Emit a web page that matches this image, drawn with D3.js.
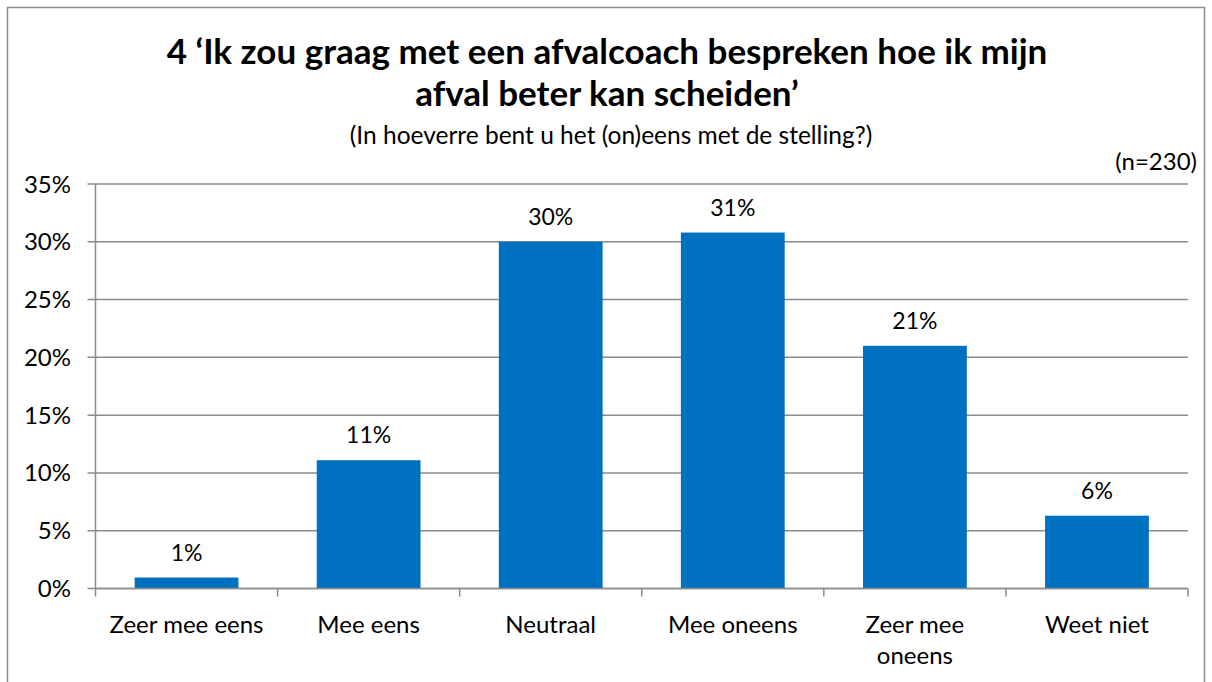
<!DOCTYPE html>
<html>
<head>
<meta charset="utf-8">
<script src="https://cdn.jsdelivr.net/npm/d3@7"></script>
<style>
  body { margin: 0; background: #fff; }
  svg { font-family: Lato, "Open Sans", sans-serif; }
</style>
</head>
<body>
<svg width="1212" height="682"></svg>
<script>
const categories = ['Zeer mee eens', 'Mee eens', 'Neutraal', 'Mee oneens', 'Zeer mee\noneens', 'Weet niet'];
const values = [0.95, 11.1, 30.0, 30.8, 21.0, 6.3];
const valueLabels = ['1%', '11%', '30%', '31%', '21%', '6%'];
const yTicks = [0, 5, 10, 15, 20, 25, 30, 35];

const svg = d3.select('svg');
const m = { left: 95.5, right: 1188, top: 184, bottom: 588.5 };

// outer frame
svg.append('rect')
  .attr('x', 7.5).attr('y', 7.5)
  .attr('width', 1197).attr('height', 690)
  .attr('fill', 'none').attr('stroke', '#8c8c8c').attr('stroke-width', 1.5);

const x = d3.scaleBand().domain(categories).range([m.left, m.right]).paddingInner(0.43).paddingOuter(0.215);
const y = d3.scaleLinear().domain([0, 35]).range([m.bottom, m.top]);

// gridlines
svg.append('g').selectAll('line').data(yTicks).join('line')
  .attr('x1', m.left - 8).attr('x2', m.right)
  .attr('y1', d => y(d)).attr('y2', d => y(d))
  .attr('stroke', '#8c8c8c').attr('stroke-width', 1.5);

svg.append('g').selectAll('text').data(yTicks).join('text')
  .attr('x', 71).attr('y', d => y(d) + 8.5)
  .attr('text-anchor', 'end').attr('font-size', 24).attr('fill', '#000')
  .text(d => d + '%');

// bars
svg.append('g').selectAll('rect').data(values).join('rect')
  .attr('x', (d, i) => x(categories[i]))
  .attr('width', x.bandwidth())
  .attr('y', d => y(d))
  .attr('height', d => y(0) - y(d))
  .attr('fill', '#0070c0');

svg.append('g').selectAll('text').data(values).join('text')
  .attr('x', (d, i) => x(categories[i]) + x.bandwidth() / 2)
  .attr('y', d => y(d) - 17)
  .attr('text-anchor', 'middle').attr('font-size', 23)
  .text((d, i) => valueLabels[i]);

// axes lines
svg.append('line').attr('x1', m.left).attr('x2', m.left).attr('y1', m.top).attr('y2', m.bottom)
  .attr('stroke', '#8c8c8c').attr('stroke-width', 1.5);
svg.append('line').attr('x1', m.left).attr('x2', m.right).attr('y1', m.bottom).attr('y2', m.bottom)
  .attr('stroke', '#8c8c8c').attr('stroke-width', 1.5);

const xTicks = d3.range(categories.length + 1).map(i => m.left + i * (m.right - m.left) / categories.length);
svg.append('g').selectAll('line').data(xTicks).join('line')
  .attr('x1', d => d).attr('x2', d => d)
  .attr('y1', m.bottom).attr('y2', m.bottom + 8)
  .attr('stroke', '#8c8c8c').attr('stroke-width', 1.5);

const xl = svg.append('g').selectAll('text').data(categories).join('text')
  .attr('x', d => x(d) + x.bandwidth() / 2)
  .attr('y', 633)
  .attr('text-anchor', 'middle').attr('font-size', 24);
xl.selectAll('tspan').data(d => d.split('\n')).join('tspan')
  .attr('x', function () { return d3.select(this.parentNode).attr('x'); })
  .attr('dy', (d, i) => i === 0 ? 0 : 31)
  .text(d => d);

// titles
svg.append('text').attr('x', 607).attr('y', 64).attr('text-anchor', 'middle')
  .attr('font-size', 35).attr('font-weight', 'bold')
  .text('4 \u2018Ik zou graag met een afvalcoach bespreken hoe ik mijn');
svg.append('text').attr('x', 607).attr('y', 106).attr('text-anchor', 'middle')
  .attr('font-size', 35).attr('font-weight', 'bold')
  .text('afval beter kan scheiden\u2019');
svg.append('text').attr('x', 611).attr('y', 144).attr('text-anchor', 'middle')
  .attr('font-size', 24.5)
  .text('(In hoeverre bent u het (on)eens met de stelling?)');
svg.append('text').attr('x', 1197).attr('y', 170).attr('text-anchor', 'end')
  .attr('font-size', 24)
  .text('(n=230)');
</script>
</body>
</html>
